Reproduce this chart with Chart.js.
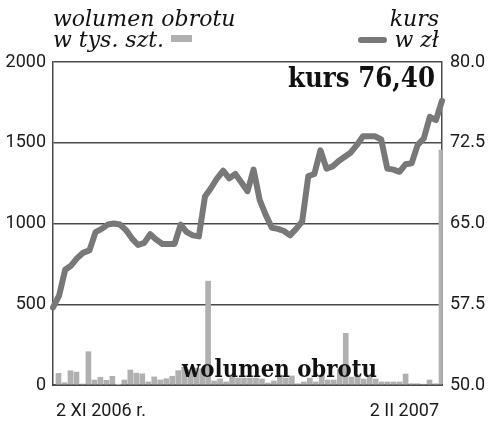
<!DOCTYPE html>
<html>
<head>
<meta charset="utf-8">
<script src="https://cdn.jsdelivr.net/npm/chart.js@4"></script>
<style>
  html, body { margin: 0; padding: 0; background: #fff; }
  #wrap { width: 500px; height: 430px; }
</style>
</head>
<body>
<div id="wrap"><canvas id="Kurs"></canvas></div>
<script>
// wolumen obrotu, tys. szt. (sesje od 2 XI 2006 do 2 II 2007)
const volume = [72,14,88,80,6,206,31,48,29,54,
                2,31,93,73,69,19,50,31,39,54,
                89,110,95,105,100,643,25,37,19,62,
                43,43,43,43,37,12,25,62,43,56,
                8,19,43,19,62,31,31,99,320,49,
                62,37,62,37,19,19,19,19,68,8,
                8,5,31,8,1455];
// kurs w zł
const kurs = [57.2,58.3,60.7,61.1,61.8,62.3,62.5,64.2,64.5,64.9,
              65.0,64.9,64.4,63.6,63.0,63.2,64.0,63.5,63.1,63.1,
              63.1,64.9,64.2,63.9,63.8,67.5,68.3,69.2,69.9,69.2,
              69.6,68.8,68.0,70.0,67.2,65.8,64.6,64.5,64.3,63.9,
              64.5,65.2,69.4,69.6,71.8,70.1,70.3,70.8,71.2,71.6,
              72.3,73.1,73.1,73.1,72.8,70.1,70.0,69.8,70.5,70.6,
              72.3,72.9,74.9,74.6,76.4];
const firstLabel = '2 XI 2006 r.';
const lastLabel = '2 II 2007';
const volumeTicks = [0, 2000, 500];   // min, max, krok
const kursTicks = [50, 80, 7.5];

const labels = volume.map((v, i) => i === 0 ? firstLabel : (i === volume.length - 1 ? lastLabel : ''));

const gridColor = '#4a4a4a';
const tickFont = { family: 'Roboto', size: 18 };

// napisy: naglowki, legenda, "kurs 76,40", "wolumen obrotu"
const texts = {
  id: 'texts',
  afterDatasetsDraw(chart) {
    const ctx = chart.ctx;
    const a = chart.chartArea;
    ctx.save();
    ctx.fillStyle = '#111';
    ctx.textBaseline = 'alphabetic';

    ctx.font = 'italic 22px "DejaVu Serif"';
    ctx.textAlign = 'left';
    ctx.fillText('wolumen obrotu', a.left, 26, 187);
    ctx.fillText('w tys. szt.', a.left, 47, 112);
    ctx.textAlign = 'right';
    ctx.fillText('kurs', a.right - 3, 26, 58);
    ctx.fillText('w zł', a.right - 3, 47, 50);

    // znaczniki legendy
    ctx.fillStyle = '#b0b0b0';
    ctx.fillRect(171, 35, 21, 7);
    ctx.strokeStyle = '#787878';
    ctx.lineWidth = 6;
    ctx.lineCap = 'round';
    ctx.beginPath();
    ctx.moveTo(361, 40);
    ctx.lineTo(384, 40);
    ctx.stroke();

    ctx.fillStyle = '#111';
    ctx.font = 'bold 27px "DejaVu Serif"';
    ctx.textAlign = 'right';
    ctx.fillText('kurs ' + kurs[kurs.length - 1].toFixed(2).replace('.', ','), a.right - 7, 87, 147);

    ctx.font = 'bold 24px "DejaVu Serif"';
    ctx.textAlign = 'left';
    ctx.fillText('wolumen obrotu', 182, 377, 195);
    ctx.restore();
  }
};

var ctx = document.getElementById('Kurs').getContext('2d');
var myChart = new Chart(ctx, {
  type: 'bar',
  data: {
    labels: labels,
    datasets: [{
      type: 'line',
      label: 'kurs',
      data: kurs,
      xAxisID: 'x2',
      yAxisID: 'yKurs',
      borderColor: '#787878',
      borderWidth: 6,
      pointRadius: 0,
      tension: 0,
      borderJoinStyle: 'round',
      borderCapStyle: 'round',
      order: 1
    }, {
      label: 'wolumen',
      data: volume,
      xAxisID: 'x',
      yAxisID: 'yVol',
      backgroundColor: '#b0b0b0',
      barThickness: 5,
      order: 2
    }]
  },
  options: {
    responsive: true,
    maintainAspectRatio: false,
    animation: false,
    layout: { padding: { top: 62, left: 0, right: 0, bottom: 0 } },
    plugins: {
      legend: { display: false },
      tooltip: { enabled: false }
    },
    scales: {
      x: {
        offset: true,
        grid: { display: false, drawTicks: false },
        border: { display: true, color: gridColor, width: 2 },
        ticks: {
          autoSkip: false, maxRotation: 0, align: 'inner',
          color: '#1a1a1a', font: tickFont, padding: 16,
          callback: function (v, i) { return labels[i] || null; }
        },
        afterFit: function (s) { s.height = 45; }
      },
      x2: {
        type: 'category',
        offset: false,
        display: false
      },
      yVol: {
        position: 'left',
        min: volumeTicks[0], max: volumeTicks[1],
        ticks: {
          stepSize: volumeTicks[2], color: '#1a1a1a', font: tickFont, padding: 7,
          callback: function (v) { return String(v); }
        },
        grid: { color: gridColor, lineWidth: 1.5, drawTicks: false },
        border: { display: true, color: gridColor, width: 1.5 },
        afterFit: function (s) { s.width = 53; }
      },
      yKurs: {
        position: 'right',
        min: kursTicks[0], max: kursTicks[1],
        ticks: {
          stepSize: kursTicks[2], color: '#1a1a1a', font: tickFont, padding: 8,
          callback: function (v) { return Number(v).toFixed(1); }
        },
        grid: { display: false, drawTicks: false },
        border: { display: true, color: gridColor, width: 1.5 },
        afterFit: function (s) { s.width = 58; }
      }
    }
  },
  plugins: [texts]
});
</script>
</body>
</html>
